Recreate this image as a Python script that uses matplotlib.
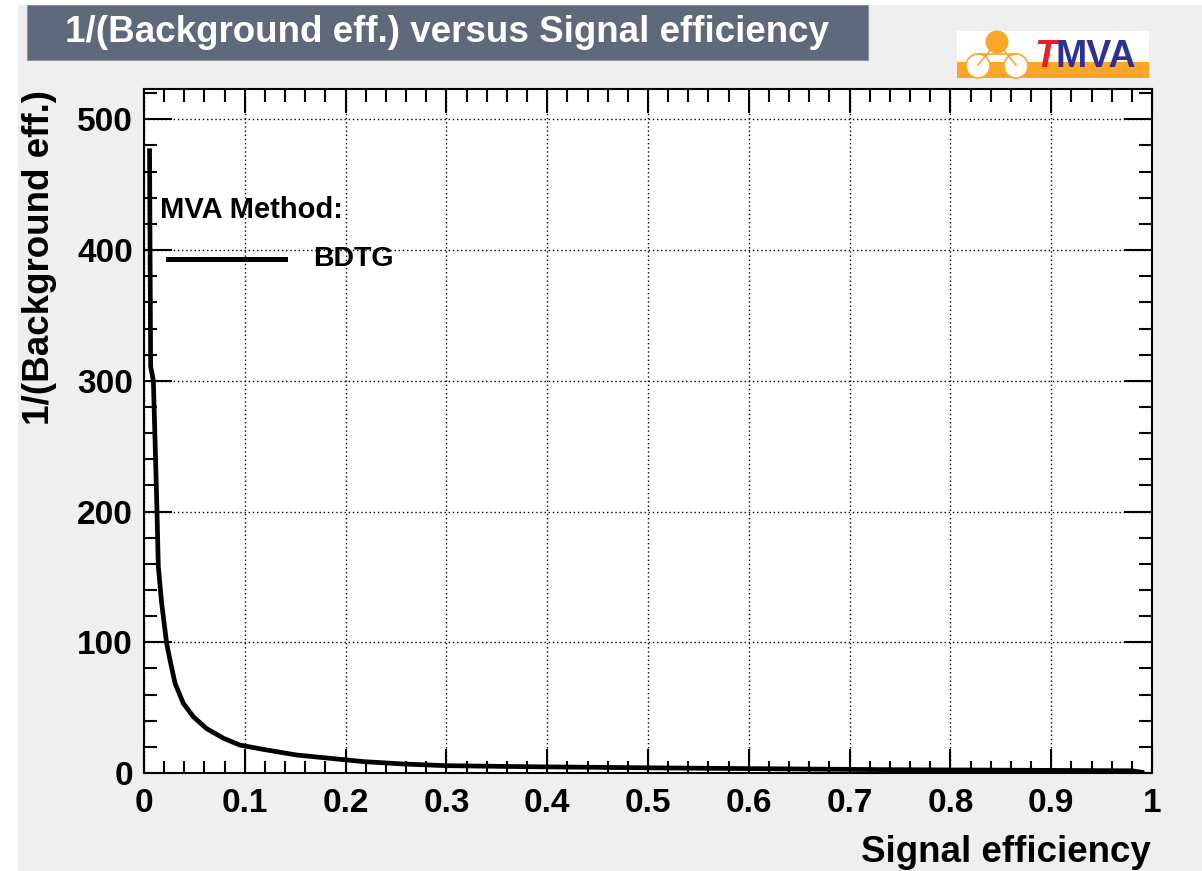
import matplotlib
matplotlib.use("Agg")
import matplotlib.pyplot as plt
from matplotlib.patches import Rectangle, Circle
from matplotlib.ticker import MultipleLocator
from matplotlib.lines import Line2D

plt.rcParams['font.family'] = ['Liberation Sans', 'DejaVu Sans']
plt.rcParams['font.weight'] = 'bold'

# ---- data ----
sig_eff = [0.0055, 0.0060, 0.0066, 0.0093, 0.0126, 0.0142, 0.0175, 0.0225, 0.0258,
           0.0308, 0.039, 0.049, 0.062, 0.079, 0.095, 0.118, 0.151, 0.185, 0.218,
           0.257, 0.300, 0.383, 0.51, 0.73, 0.98, 0.99]
inv_bkg = [476, 400, 311, 300, 209, 158, 130, 99, 86.4,
           68.6, 53.3, 43, 34, 26.5, 21.4, 18.1, 13.8, 11.2, 8.7,
           6.9, 5.6, 4.8, 3.9, 2.6, 1.7, 0.5]
method_name = "BDTG"
legend_header = "MVA Method:"
title_text = "1/(Background eff.) versus Signal efficiency"
x_label = "Signal efficiency"
y_label = "1/(Background eff.)"
x_ticks = [0, 0.1, 0.2, 0.3, 0.4, 0.5, 0.6, 0.7, 0.8, 0.9, 1]
x_ticklabels = ["0", "0.1", "0.2", "0.3", "0.4", "0.5", "0.6", "0.7", "0.8", "0.9", "1"]
y_ticks = [0, 100, 200, 300, 400, 500]

W, H = 1202, 871
fig = plt.figure(figsize=(W / 100, H / 100), dpi=100, facecolor='white')


def fx(px):
    return px / W


def fy(py):
    return 1 - py / H


# background / decoration layer in pixel coordinates
bg = fig.add_axes([0, 0, 1, 1], zorder=0)
bg.set_xlim(0, W)
bg.set_ylim(H, 0)
bg.axis('off')
bg.add_patch(Rectangle((18, 5), W - 18, H - 5, facecolor='#efefef', edgecolor='none'))
# title box
bg.add_patch(Rectangle((27, 5), 841, 55, facecolor='#5e6a7c', edgecolor='#8a93a0', lw=0.8))
bg.text(447, 32, title_text, color='white', fontsize=26.5, fontweight='bold',
        ha='center', va='center')
# TMVA logo
orange = '#fba629'
bg.add_patch(Rectangle((957, 31), 192, 47, facecolor='white', edgecolor='none'))
bg.add_patch(Rectangle((957, 62), 192, 16, facecolor=orange, edgecolor='none'))
bg.plot([997, 978], [42, 65], color=orange, lw=1.2)
bg.plot([997, 1016], [42, 65], color=orange, lw=1.2)
bg.plot([978, 1016], [54, 54], color=orange, lw=1.2)
bg.add_patch(Circle((997, 42), 11.5, facecolor=orange, edgecolor='none'))
bg.add_patch(Circle((978, 66), 12, facecolor='white', edgecolor=orange, lw=1.2))
bg.add_patch(Circle((1016, 66), 12, facecolor='white', edgecolor=orange, lw=1.2))
bg.text(1034, 67, "T", color='#ee1c25', fontsize=27, fontweight='bold',
        style='italic', ha='left', va='baseline')
bg.text(1055, 67, "MVA", color='#2e3192', fontsize=27, fontweight='bold',
        ha='left', va='baseline')

# main axes
L, R, T, B = 144, 1152, 89, 773
ax = fig.add_axes([fx(L), fy(B), (R - L) / W, (B - T) / H], zorder=1)
ax.set_facecolor('white')
ax.plot(sig_eff, inv_bkg, color='black', lw=3.4, solid_joinstyle='miter')
ax.set_xlim(0, 1)
ax.set_ylim(0, 523.2)
ax.set_xticks(x_ticks)
ax.set_xticklabels(x_ticklabels)
ax.set_yticks(y_ticks)
ax.xaxis.set_minor_locator(MultipleLocator(0.02))
ax.yaxis.set_minor_locator(MultipleLocator(20))
ax.grid(True, which='major', color='black', linestyle=(0, (1, 2)), lw=1.0)
ax.tick_params(axis='both', which='both', direction='in', top=True, right=True,
               width=1.5, labelsize=24)
ax.tick_params(axis='x', which='major', length=17, pad=11)
ax.tick_params(axis='x', which='minor', length=9)
ax.tick_params(axis='y', which='major', length=20, pad=8)
ax.tick_params(axis='y', which='minor', length=9.5)
for lbl in ax.get_xticklabels() + ax.get_yticklabels():
    lbl.set_fontweight('bold')
for s in ax.spines.values():
    s.set_linewidth(1.5)

# axis titles (ROOT style: right / top aligned)
fig.text(fx(1151), fy(862), x_label, fontsize=26.5, fontweight='bold',
         ha='right', va='baseline')
fig.text(fx(40), fy(90), y_label, fontsize=26.5, fontweight='bold',
         rotation=90, ha='center', va='top')

# legend (drawn manually, ROOT style)
fig.add_artist(Line2D([fx(168), fx(285)], [fy(259), fy(259)], color='black', lw=3.6,
                      transform=fig.transFigure, zorder=5))
fig.text(fx(160), fy(210), legend_header, fontsize=21, fontweight='bold',
         ha='left', va='center', zorder=6)
fig.text(fx(313), fy(259), method_name, fontsize=20.5, fontweight='bold',
         ha='left', va='center', zorder=6)

fig.savefig("out.png", dpi=100, facecolor=fig.get_facecolor())
